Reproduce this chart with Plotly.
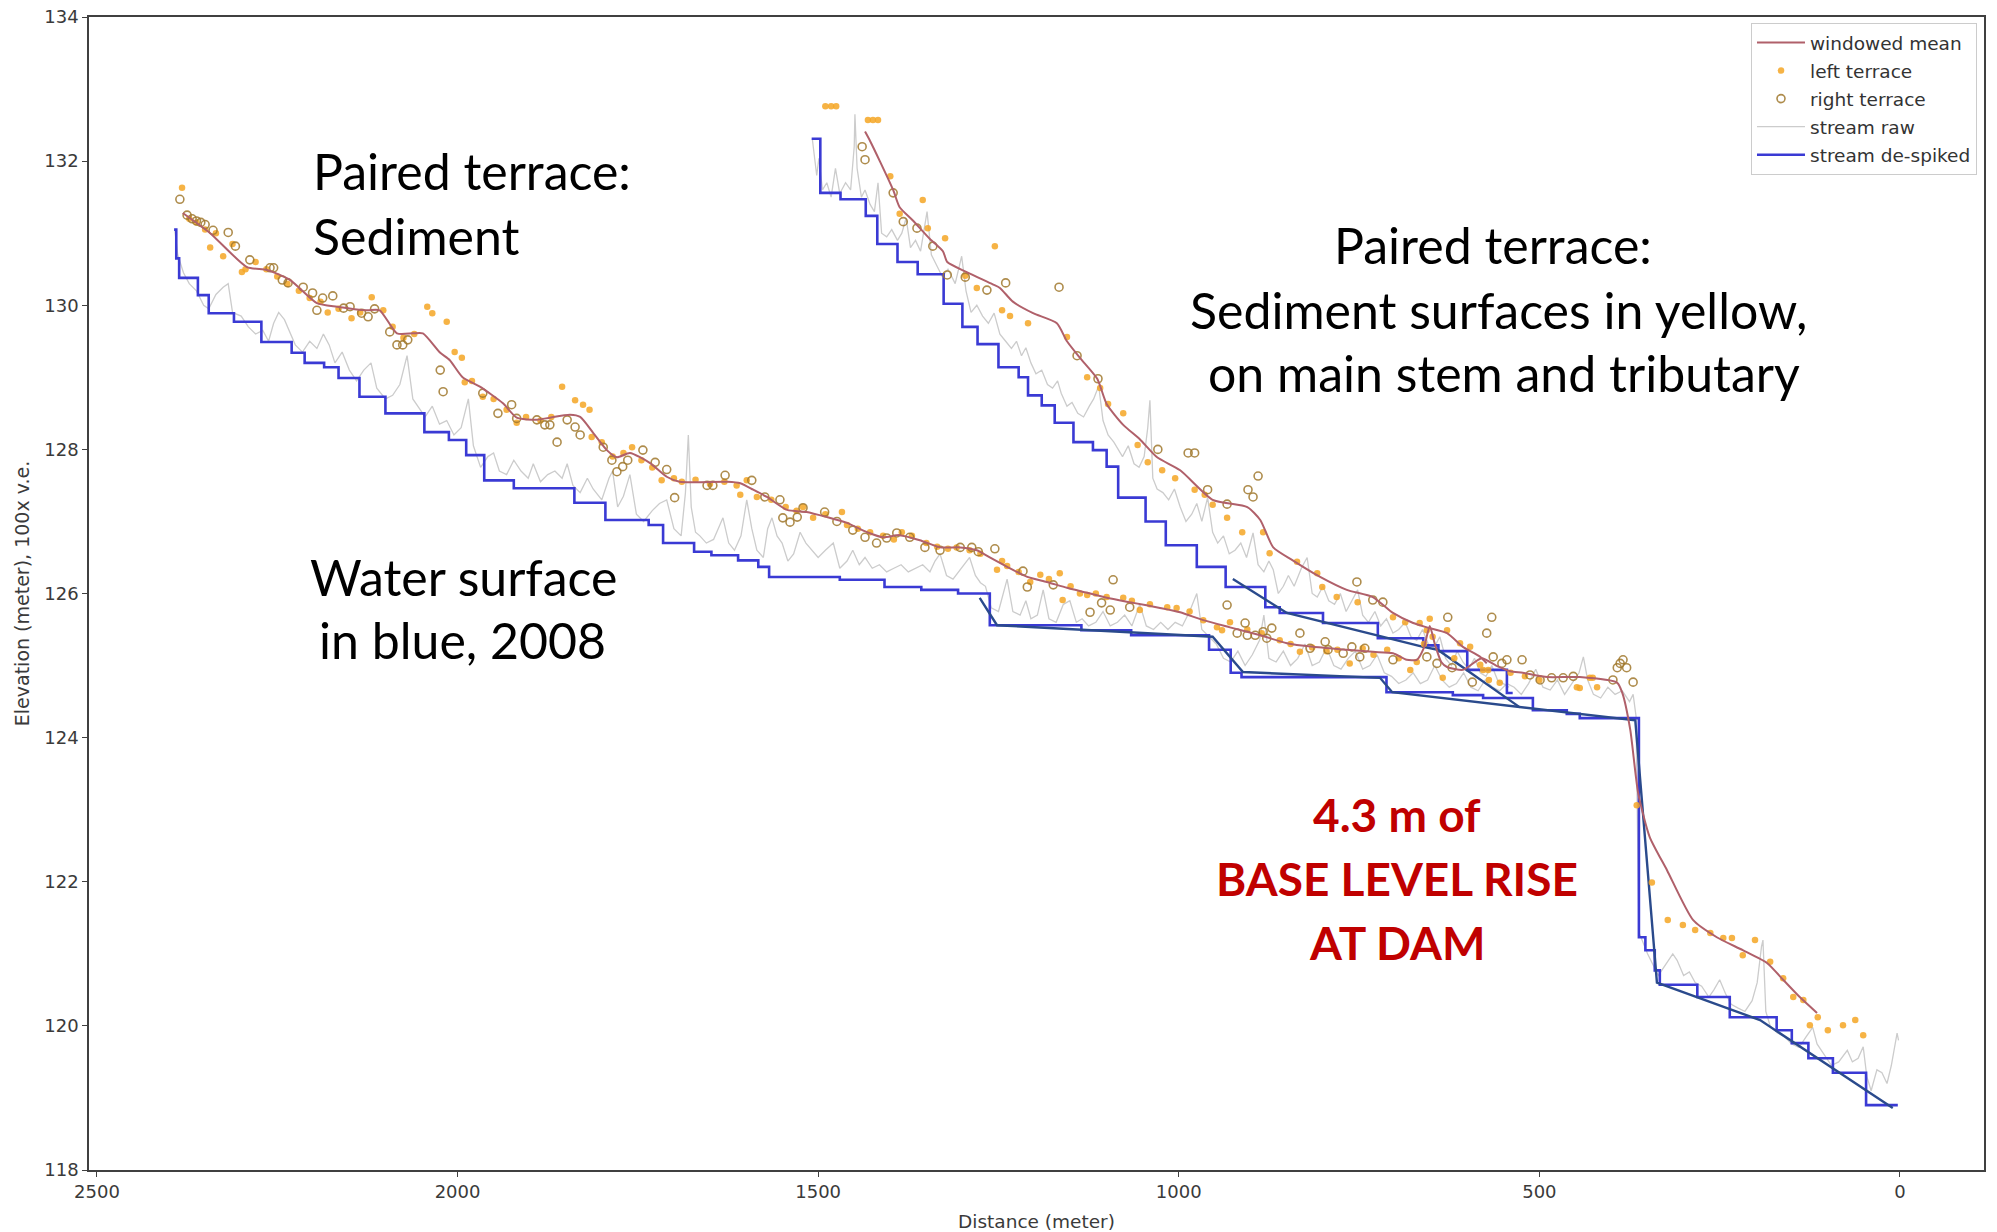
import plotly.graph_objects as go

# ---------------- data (distance in m, elevation in m) ----------------
MAIN_DESPIKED = [(2393,131.05),(2390,130.65),(2386,130.38),(2360,130.14),(2345,129.89),(2310,129.77),
    (2272,129.49),(2230,129.34),(2212,129.20),(2185,129.14),(2165,128.99),(2136,128.73),(2100,128.50),
    (2046,128.24),(2012,128.13),(1988,127.92),(1963,127.57),(1922,127.46),(1838,127.26),(1795,127.02),
    (1735,126.95),(1715,126.70),(1672,126.58),(1648,126.53),(1611,126.46),(1583,126.37),(1568,126.23),
    (1470,126.19),(1408,126.09),(1357,126.05),(1306,126.00),(1262,125.56),(1135,125.49),(1066,125.42),
    (958,125.22),(928,124.90),(913,124.84),(712,124.63),(620,124.59),(578,124.55),(509,124.38),
    (462,124.33),(444,124.27),(362,121.23),(353,121.05),(340,120.77),(333,120.57),(281,120.40),
    (236,120.12),(171,119.94),(150,119.76),(127,119.55),(93,119.35),(47,118.90),(3,118.90)]

TRIB_DESPIKED = [(1509,132.31),(1497,131.56),(1469,131.47),(1434,131.24),(1418,130.85),(1390,130.60),
    (1362,130.43),(1326,130.02),(1300,129.70),(1279,129.46),(1250,129.14),(1222,129.00),(1209,128.75),
    (1190,128.61),(1172,128.37),(1146,128.10),(1119,127.99),(1100,127.76),(1084,127.33),(1046,127.00),
    (1018,126.67),(975,126.37),(935,126.09),(880,125.81),(860,125.73),(800,125.59),(724,125.38),
    (661,125.28),(640,125.20),(600,124.94),(545,124.62),(537,124.62)]

MAIN_RAW = [(2392,131.05),(2388,130.70),(2380,130.45),(2372,130.30),(2362,130.20),(2352,130.00),
    (2345,129.95),(2335,130.15),(2325,130.25),(2318,130.30),(2312,129.90),(2300,129.85),(2290,129.70),
    (2280,129.60),(2270,129.65),(2262,129.50),(2255,129.75),(2248,129.90),(2240,129.80),(2232,129.60),
    (2225,129.45),(2215,129.35),(2205,129.50),(2195,129.40),(2186,129.60),(2178,129.45),(2170,129.20),
    (2160,129.35),(2150,129.10),(2140,128.95),(2130,129.10),(2120,129.20),(2112,128.85),(2100,128.70),
    (2090,128.75),(2080,128.90),(2070,129.30),(2062,128.70),(2052,128.55),(2045,128.45),(2035,128.60),
    (2025,128.35),(2015,128.40),(2005,128.20),(1995,128.30),(1985,128.70),(1978,128.05),(1968,127.75),
    (1958,127.90),(1950,127.95),(1942,127.70),(1932,127.65),(1922,127.85),(1912,127.70),(1902,127.60),
    (1895,127.80),(1885,127.55),(1875,127.65),(1865,127.70),(1855,127.60),(1848,127.80),(1840,127.50),
    (1830,127.40),(1820,127.60),(1812,127.45),(1800,127.30),(1790,127.60),(1785,127.70),(1778,127.20),
    (1770,127.35),(1761,127.65),(1752,127.10),(1742,127.00),(1730,127.15),(1720,127.25),(1710,127.30),
    (1700,126.90),(1690,126.80),(1684,127.40),(1680,128.20),(1676,127.20),(1670,126.85),(1664,126.80),
    (1655,126.70),(1645,126.75),(1638,126.90),(1632,127.05),(1624,126.70),(1616,126.60),(1607,126.80),
    (1599,127.30),(1592,126.90),(1585,126.60),(1576,126.50),(1570,126.90),(1564,127.05),(1557,126.80),
    (1550,126.70),(1542,126.45),(1534,126.55),(1525,126.85),(1517,126.70),(1508,126.60),(1500,126.50),
    (1490,126.60),(1479,126.70),(1470,126.35),(1460,126.45),(1452,126.60),(1443,126.40),(1435,126.50),
    (1425,126.35),(1415,126.40),(1405,126.30),(1395,126.35),(1385,126.40),(1375,126.30),(1365,126.35),
    (1355,126.40),(1345,126.30),(1338,126.45),(1331,126.55),(1322,126.25),(1313,126.20),(1305,126.30),
    (1297,126.40),(1290,126.50),(1282,126.25),(1275,126.15),(1268,126.10),(1260,125.80),(1250,125.75),
    (1238,126.20),(1230,125.75),(1220,125.70),(1212,125.90),(1205,125.65),(1196,125.70),(1188,126.05),
    (1180,125.65),(1170,125.60),(1160,125.85),(1151,125.90),(1142,125.60),(1134,125.65),(1125,125.55),
    (1115,125.60),(1105,125.75),(1095,125.55),(1085,125.60),(1075,125.70),(1065,125.55),(1054,125.85),
    (1045,125.55),(1035,125.50),(1025,125.60),(1015,125.50),(1005,125.60),(995,125.55),(985,125.75),
    (975,126.00),(968,125.50),(958,125.40),(948,125.30),(938,125.10),(928,125.05),(918,125.20),
    (908,125.00),(898,125.15),(888,125.35),(882,125.70),(875,125.10),(865,125.05),(855,125.20),
    (845,125.00),(835,125.10),(825,125.30),(815,125.00),(805,125.05),(795,125.25),(785,125.00),
    (775,124.95),(765,125.10),(755,125.20),(745,124.95),(735,125.00),(725,125.15),(715,124.90),
    (705,124.85),(695,124.75),(685,124.80),(675,124.90),(665,124.75),(655,124.80),(645,125.00),
    (635,124.80),(625,124.70),(615,124.75),(605,124.90),(595,124.70),(585,124.65),(575,124.80),
    (565,124.70),(555,124.65),(545,124.75),(535,124.70),(525,124.60),(515,124.75),(505,124.95),
    (495,124.70),(485,124.66),(475,124.80),(465,124.60),(455,124.75),(445,124.90),(439,125.12),
    (433,124.80),(425,124.60),(415,124.55),(405,124.70),(395,124.60),(385,124.65),(375,124.50),
    (370,124.60),(366,124.30),(362,121.30),(350,121.00),(335,120.70),(325,120.85),(315,121.00),
    (309,120.91),(300,120.70),(292,120.75),(284,120.60),(275,120.55),(265,120.40),(258,120.50),
    (250,120.64),(242,120.45),(234,120.30),(225,120.25),(215,120.20),(205,120.35),(198,120.60),
    (192,121.10),(190,121.19),(186,120.20),(180,120.00),(170,119.90),(160,119.85),(150,119.75),
    (140,119.70),(130,119.85),(121,119.98),(115,119.75),(105,119.60),(95,119.45),(85,119.50),
    (78,119.60),(73,119.66),(66,119.50),(58,119.55),(51,119.71),(46,119.30),(40,119.10),(32,119.39),
    (25,119.35),(18,119.20),(12,119.45),(6,119.75),(4,119.90),(2,119.80)]

TRIB_RAW = [(1508,132.30),(1502,131.80),(1499,132.04),(1494,131.60),(1488,131.70),(1482,131.50),
    (1476,131.90),(1470,131.55),(1462,131.70),(1455,131.60),(1450,132.20),(1449,132.65),(1446,131.90),
    (1440,131.50),(1435,131.60),(1428,131.40),(1422,131.30),(1417,131.70),(1412,131.00),(1405,130.95),
    (1398,131.05),(1390,130.90),(1384,131.00),(1378,131.21),(1372,130.80),(1365,130.90),(1358,130.75),
    (1349,131.30),(1343,130.70),(1336,130.55),(1328,130.40),(1320,130.50),(1310,130.30),(1301,130.68),
    (1295,130.20),(1288,129.90),(1280,130.00),(1272,129.85),(1264,129.75),(1256,129.89),(1248,129.60),
    (1240,129.50),(1232,129.40),(1225,129.50),(1218,129.30),(1212,129.41),(1205,129.20),(1198,129.05),
    (1190,129.10),(1182,128.90),(1175,128.85),(1168,128.95),(1163,128.78),(1155,128.60),(1148,128.65),
    (1140,128.50),(1132,128.45),(1124,128.60),(1118,128.70),(1111,128.88),(1105,128.40),(1098,128.20),
    (1090,128.10),(1084,128.00),(1078,127.90),(1070,128.05),(1062,127.80),(1055,127.75),(1048,127.90),
    (1043,128.30),(1040,128.68),(1036,127.60),(1030,127.45),(1022,127.40),(1014,127.30),(1006,127.45),
    (998,127.20),(990,127.00),(982,127.10),(975,127.25),(968,127.00),(960,127.33),(953,126.85),
    (946,126.70),(938,126.80),(930,126.55),(922,126.60),(914,126.70),(906,126.50),(897,126.84),
    (890,126.40),(882,126.30),(875,126.45),(869,126.33),(862,126.00),(855,126.10),(848,126.25),
    (840,126.10),(830,126.35),(822,126.50),(815,126.00),(808,125.95),(800,126.10),(792,125.90),
    (784,125.85),(776,126.00),(768,125.75),(760,125.90),(752,126.05),(745,125.70),(737,125.60),
    (728,125.75),(720,125.55),(712,125.65),(703,125.45),(695,125.50),(686,125.60),(678,125.40),
    (670,125.35),(662,125.50),(654,125.30),(646,125.25),(638,125.40),(630,125.10),(622,125.00),
    (614,125.20),(606,125.05),(598,124.95),(590,125.10),(582,124.90),(574,124.85),(566,125.00),
    (558,124.80),(550,124.75),(542,124.70)]

MAIN_MEAN = [(2381,131.28),(2343,131.00),(2292,130.53),(2264,130.49),(2232,130.35),(2195,130.03),
    (2167,129.98),(2126,129.93),(2108,129.93),(2084,129.61),(2062,129.61),(2048,129.61),(2024,129.34),
    (2011,129.24),(1993,129.00),(1969,128.87),(1937,128.64),(1918,128.44),(1890,128.41),(1872,128.44),
    (1844,128.48),(1830,128.45),(1812,128.23),(1793,127.99),(1779,127.89),(1761,127.95),(1733,127.81),
    (1710,127.62),(1692,127.55),(1626,127.55),(1608,127.53),(1590,127.44),(1571,127.34),(1543,127.16),
    (1516,127.13),(1488,127.06),(1460,126.98),(1432,126.85),(1410,126.78),(1387,126.81),(1359,126.74),
    (1331,126.64),(1303,126.64),(1280,126.60),(1262,126.50),(1238,126.37),(1210,126.23),(1183,126.16),
    (1155,126.08),(1127,126.01),(1100,125.94),(1063,125.87),(1026,125.80),(998,125.74),(966,125.63),
    (929,125.53),(887,125.42),(850,125.31),(814,125.26),(767,125.22),(731,125.19),(703,125.17),
    (684,125.08),(670,125.08),(660,125.25),(652,125.55),(645,125.30),(636,125.05),(628,124.98),
    (606,124.94),(580,125.10),(560,125.00),(540,124.92),(523,124.90),(489,124.84),(444,124.84),
    (392,124.76),(385,124.62),(374,124.11),(363,123.23),(347,122.62),(323,122.16),(287,121.47),
    (254,121.23),(218,121.05),(184,120.87),(162,120.64),(139,120.40),(115,120.18)]

TRIB_MEAN = [(1435,132.41),(1428,132.28),(1414,131.99),(1396,131.60),(1387,131.36),(1369,131.18),
    (1345,130.92),(1327,130.75),(1321,130.60),(1294,130.46),(1258,130.29),(1248,130.24),(1230,130.05),
    (1202,129.89),(1169,129.75),(1155,129.50),(1137,129.27),(1113,128.98),(1100,128.63),(1077,128.34),
    (1054,128.14),(1030,127.89),(998,127.71),(953,127.30),(905,127.20),(887,127.02),(869,126.64),
    (842,126.46),(804,126.23),(767,126.05),(731,125.95),(703,125.73),(675,125.59),(656,125.53),
    (628,125.45),(606,125.26),(582,125.12),(573,125.03)]

LEFT_TERRACE = [(2382,131.63),(2372,131.20),(2362,131.15),(2350,131.05),(2343,130.80),(2335,131.00),
    (2325,130.68),(2312,130.85),(2299,130.46),(2294,130.50),(2280,130.60),(2265,130.50),(2250,130.40),
    (2236,130.30),(2220,130.20),(2205,130.10),(2190,130.05),(2180,129.90),(2165,129.95),(2147,129.82),
    (2135,129.90),(2119,130.11),(2103,129.93),(2090,129.70),(2075,129.55),(2060,129.60),(2042,129.98),
    (2035,129.89),(2015,129.77),(2004,129.35),(1994,129.27),(1990,128.93),(1980,128.95),(1965,128.73),
    (1950,128.70),(1932,128.55),(1918,128.37),(1905,128.45),(1885,128.40),(1870,128.45),(1855,128.87),
    (1837,128.68),(1826,128.62),(1817,128.55),(1814,128.17),(1800,128.10),(1785,127.90),(1770,127.95),
    (1758,128.03),(1745,127.85),(1730,127.75),(1717,127.57),(1700,127.60),(1689,127.55),(1670,127.58),
    (1650,127.52),(1630,127.55),(1613,127.50),(1608,127.37),(1599,127.57),(1585,127.34),(1565,127.30),
    (1545,127.20),(1530,127.15),(1521,127.20),(1507,127.05),(1490,127.10),(1467,127.13),(1460,126.95),
    (1445,126.90),(1428,126.85),(1410,126.80),(1395,126.75),(1384,126.85),(1370,126.80),(1350,126.70),
    (1335,126.65),(1320,126.62),(1308,126.64),(1290,126.60),(1275,126.55),(1252,126.33),(1245,126.45),
    (1238,126.38),(1222,126.30),(1206,126.16),(1192,126.26),(1180,126.20),(1165,126.28),(1161,125.91),
    (1150,126.10),(1137,126.00),(1127,125.98),(1115,126.00),(1100,125.95),(1077,125.94),(1065,125.90),
    (1054,125.77),(1040,125.85),(1016,125.81),(1003,125.80),(985,125.75),(966,125.63),(947,125.53),
    (940,125.49),(929,125.60),(905,125.50),(885,125.45),(860,125.35),(845,125.30),(832,125.19),
    (815,125.25),(795,125.20),(780,125.22),(763,125.03),(745,125.24),(730,125.15),(711,125.22),
    (695,125.10),(679,124.94),(670,125.05),(660,125.30),(656,125.49),(652,125.65),(648,125.40),
    (634,124.83),(618,125.10),(596,125.26),(578,124.94),(570,124.80),(555,124.76),(540,124.90),
    (520,124.85),(500,124.80),(448,124.70),(444,124.69),(430,124.83),(420,124.70),(426,124.83),
    (365,123.06),(344,121.99),(322,121.47),(301,121.40),(284,121.33),(263,121.29),(245,121.22),
    (233,121.22),(218,120.98),(201,121.19),(180,120.89),(162,120.66),(148,120.40),(134,120.36),
    (125,120.01),(114,120.12),(100,119.94),(79,120.01),(62,120.08),(51,119.87),
    (1490,132.76),(1482,132.76),(1475,132.76),(1431,132.57),(1424,132.57),(1417,132.57),(1400,131.79),
    (1387,131.27),(1355,131.46),(1348,131.07),(1324,130.93),(1296,130.41),(1280,130.24),(1255,130.82),
    (1245,129.93),(1234,129.85),(1209,129.75),(1155,129.56),(1127,129.00),(1109,128.85),(1098,128.63),
    (1077,128.50),(1057,128.06),(1043,127.82),(1023,127.71),(1005,127.60),(978,127.44),(964,127.37),
    (953,127.23),(933,127.05),(912,126.85),(883,126.85),(874,126.56),(836,126.44),(808,126.28),
    (801,126.09),(781,125.95),(752,125.88),(703,125.67),(686,125.60),(666,125.59),(628,125.49),
    (610,125.31),(582,125.01),(571,124.94)]

RIGHT_TERRACE = [(2385,131.47),(2375,131.25),(2368,131.20),(2362,131.17),(2356,131.15),(2350,131.12),
    (2339,131.04),(2318,131.01),(2308,130.82),(2288,130.63),(2260,130.52),(2255,130.52),(2243,130.35),
    (2235,130.31),(2214,130.25),(2201,130.17),(2195,129.93),(2187,130.10),(2173,130.13),(2158,129.96),
    (2149,129.98),(2133,129.89),(2124,129.84),(2115,129.95),(2094,129.63),(2084,129.45),(2076,129.45),
    (2069,129.52),(2024,129.10),(2020,128.80),(1965,128.78),(1944,128.50),(1925,128.62),(1918,128.43),
    (1890,128.41),(1879,128.34),(1872,128.34),(1862,128.10),(1848,128.41),(1837,128.31),(1830,128.20),
    (1798,128.03),(1786,127.85),(1779,127.69),(1771,127.76),(1764,127.85),(1743,127.99),(1726,127.82),
    (1710,127.72),(1699,127.33),(1654,127.50),(1646,127.50),(1629,127.64),(1592,127.57),(1574,127.34),
    (1553,127.30),(1549,127.05),(1539,126.99),(1529,127.06),(1521,127.19),(1491,127.13),(1474,127.00),
    (1452,126.88),(1435,126.78),(1419,126.70),(1405,126.77),(1391,126.84),(1373,126.78),(1352,126.64),
    (1331,126.60),(1303,126.64),(1287,126.64),(1278,126.58),(1255,126.62),(1216,126.31),(1210,126.09),
    (1174,126.12),(1123,125.74),(1107,125.87),(1095,125.77),(1091,126.19),(1068,125.81),(933,125.84),
    (919,125.45),(908,125.59),(905,125.42),(894,125.42),(883,125.47),(878,125.38),(871,125.52),
    (832,125.45),(818,125.24),(797,125.33),(793,125.22),(772,125.17),(760,125.26),(749,125.12),
    (742,125.24),(703,125.08),(656,125.12),(642,125.03),(627,125.67),(621,124.97),(593,124.77),
    (573,125.45),(566,125.67),(564,125.12),(552,125.03),(545,125.08),(524,125.08),(513,124.87),
    (499,124.80),(483,124.83),(467,124.83),(453,124.85),(398,124.80),(392,124.97),(388,125.03),
    (384,125.08),(379,124.97),(370,124.77),
    (1439,132.20),(1435,132.02),(1396,131.56),(1382,131.16),(1363,131.07),(1341,130.82),(1321,130.42),
    (1296,130.39),(1266,130.21),(1240,130.31),(1166,130.25),(1141,129.30),(1112,128.98),(1029,128.00),
    (987,127.95),(978,127.95),(960,127.44),(933,127.24),(904,127.44),(897,127.34),(890,127.63),
    (753,126.16),(731,125.91),(717,125.88)]

# hand-drawn gradient lines (overlay)
GRADE_MAIN = [(1276,125.94),(1252,125.56),(1082,125.47),(953,125.40),(911,124.91),(721,124.83),
    (704,124.63),(527,124.42),(416,124.29),(367,124.24),(337,120.60),(194,120.08),(10,118.86)]
GRADE_TRIB = [(925,126.20),(850,125.73),(661,125.26),(641,125.22),(527,124.42)]

X_TICKS = [2500, 2000, 1500, 1000, 500, 0]
Y_TICKS = [118, 120, 122, 124, 126, 128, 130, 132, 134]


def xs(p):
    return [a for a, _ in p]


def ys(p):
    return [b for _, b in p]


C_MEAN = "#b0606a"
C_LEFT = "rgba(244,166,36,0.85)"
C_RIGHT = "rgba(160,120,45,0.85)"
C_RAW = "#cccccc"
C_DESPIKE = "#3a3ad4"
C_GRADE = "#2a4a8c"

fig = go.Figure()

# stream raw
fig.add_trace(go.Scatter(x=xs(MAIN_RAW), y=ys(MAIN_RAW), mode="lines", name="stream raw",
                         line=dict(color=C_RAW, width=1.3), legendgroup="raw", legendrank=4))
fig.add_trace(go.Scatter(x=xs(TRIB_RAW), y=ys(TRIB_RAW), mode="lines", name="stream raw",
                         line=dict(color=C_RAW, width=1.3), legendgroup="raw", showlegend=False))
# stream de-spiked
fig.add_trace(go.Scatter(x=xs(MAIN_DESPIKED), y=ys(MAIN_DESPIKED), mode="lines", name="stream de-spiked",
                         line=dict(color=C_DESPIKE, width=2.6, shape="hv"), legendgroup="ds", legendrank=5))
fig.add_trace(go.Scatter(x=xs(TRIB_DESPIKED), y=ys(TRIB_DESPIKED), mode="lines", name="stream de-spiked",
                         line=dict(color=C_DESPIKE, width=2.6, shape="hv"), legendgroup="ds", showlegend=False))
# overlay grade lines
for g in (GRADE_MAIN, GRADE_TRIB):
    fig.add_trace(go.Scatter(x=xs(g), y=ys(g), mode="lines", showlegend=False, hoverinfo="skip",
                             line=dict(color=C_GRADE, width=2.4)))
# terraces
fig.add_trace(go.Scatter(x=xs(LEFT_TERRACE), y=ys(LEFT_TERRACE), mode="markers", name="left terrace",
                         marker=dict(color=C_LEFT, size=6.5, line=dict(width=0)),
                         legendgroup="left", legendrank=2))
fig.add_trace(go.Scatter(x=xs(RIGHT_TERRACE), y=ys(RIGHT_TERRACE), mode="markers", name="right terrace",
                         marker=dict(symbol="circle-open", color=C_RIGHT, size=8, line=dict(width=1.6)),
                         legendgroup="right", legendrank=3))
# windowed mean
fig.add_trace(go.Scatter(x=xs(MAIN_MEAN), y=ys(MAIN_MEAN), mode="lines", name="windowed mean",
                         line=dict(color=C_MEAN, width=2, shape="spline", smoothing=0.6),
                         legendgroup="mean", legendrank=1))
fig.add_trace(go.Scatter(x=xs(TRIB_MEAN), y=ys(TRIB_MEAN), mode="lines", name="windowed mean",
                         line=dict(color=C_MEAN, width=2, shape="spline", smoothing=0.6),
                         legendgroup="mean", showlegend=False))

# ---------------- text overlays ----------------
TXT = "Lato"
notes = [
    ("Paired terrace:", 2203, 131.86, "left", "black", False),
    ("Sediment", 2203, 130.96, "left", "black", False),
    ("Paired terrace:", 564, 130.84, "center", "black", False),
    ("Sediment surfaces in yellow,", 557, 129.94, "center", "black", False),
    ("on main stem and tributary", 549, 129.06, "center", "black", False),
    ("Water surface", 1992, 126.23, "center", "black", False),
    ("in blue, 2008", 1993, 125.35, "center", "black", False),
    ("4.3 m of", 697, 122.93, "center", "#c00000", True),
    ("BASE LEVEL RISE", 697, 122.04, "center", "#c00000", True),
    ("AT DAM", 697, 121.16, "center", "#c00000", True),
]
for text, x, y, anchor, color, bold in notes:
    fig.add_annotation(x=x, y=y, xref="x", yref="y", text=f"<b>{text}</b>" if bold else text,
                       showarrow=False, xanchor=anchor, yanchor="middle",
                       font=dict(family=TXT, size=46 if bold else 50, color=color))

axis_common = dict(showline=True, linecolor="#404040", linewidth=1.5, mirror=True,
                   ticks="outside", ticklen=5, tickwidth=1.3, tickcolor="#404040",
                   showgrid=False, zeroline=False, automargin=False,
                   tickfont=dict(family="DejaVu Sans", size=18, color="#3a3a3a"))

fig.update_layout(
    template="none",
    width=1997, height=1232,
    margin=dict(l=89, r=13, t=17, b=62),
    paper_bgcolor="white", plot_bgcolor="white",
    font=dict(family="DejaVu Sans", size=18, color="#3a3a3a"),
    xaxis=dict(range=[2511, -116.5], tickvals=X_TICKS,
               title=dict(text="Distance (meter)", standoff=13.5, font=dict(size=18.5)), **axis_common),
    yaxis=dict(range=[118, 134], tickvals=Y_TICKS,
               title=dict(text="Elevation (meter), 100x v.e.", standoff=10, font=dict(size=19)), **axis_common),
    legend=dict(x=0.9963, y=0.9948, xanchor="right", yanchor="top", bgcolor="rgba(255,255,255,0.85)",
                bordercolor="#cccccc", borderwidth=1, font=dict(family="DejaVu Sans", size=18.5, color="#333333"),
                traceorder="grouped", tracegroupgap=1, itemwidth=48),
    showlegend=True,
)

# remove the default page margin so the 1997x1232 figure fills the window exactly
fig.write_html("out.html", config={"displayModeBar": False},
               post_script="document.body.style.margin='0px';document.body.style.overflow='hidden';")
